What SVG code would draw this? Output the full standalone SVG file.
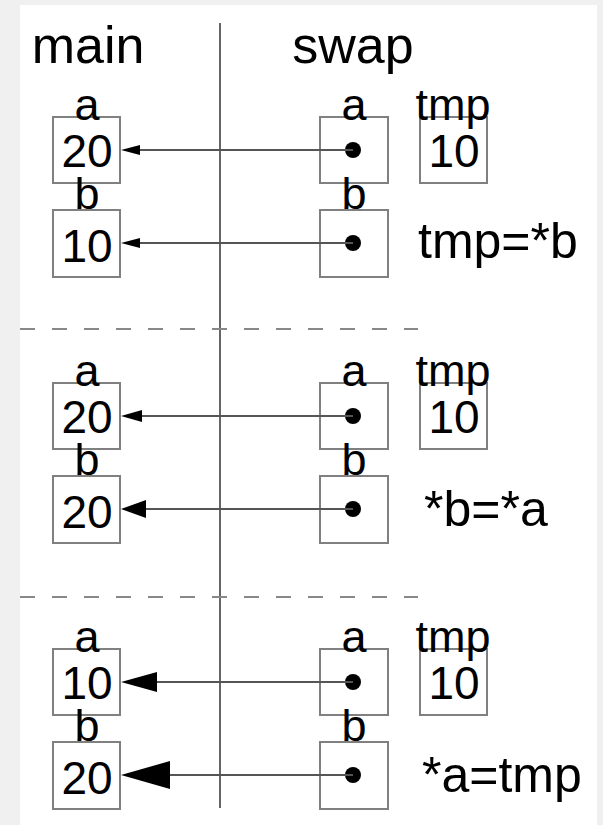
<svg xmlns="http://www.w3.org/2000/svg" width="603" height="825" viewBox="0 0 603 825">
  <style>
    .t { font-family: "Liberation Sans", Arial, sans-serif; fill: #000; text-anchor: middle; }
    .title { font-size: 52px; }
    .lbl { font-size: 45px; }
    .val { font-size: 46px; }
    .stmt { font-size: 50px; text-anchor: start; }
    .box { fill: none; stroke: #808080; stroke-width: 2; }
    .ptr { stroke: #555; stroke-width: 2; fill: none; }
    .dot { fill: #000; }
    .head { fill: #000; }
    .dash { stroke: #888; stroke-width: 2; stroke-dasharray: 15 17; fill: none; }
    .div { stroke: #666; stroke-width: 2; }
  </style>
  <rect x="0" y="0" width="603" height="825" fill="#ffffff"/>
  <rect x="0" y="0" width="20" height="825" fill="#f0f0f0"/>
  <rect x="0" y="0" width="603" height="5" fill="#f0f0f0"/>
  <rect x="597" y="0" width="6" height="825" fill="#f0f0f0"/>

  <g id="titles">
    <text class="t title" x="88" y="63">main</text>
    <text class="t title" x="353" y="63">swap</text>
  </g>

  <g id="dividers">
    <line class="div" x1="220" y1="23" x2="220" y2="808"/>
    <line class="dash" x1="20" y1="329" x2="418" y2="329"/>
    <line class="dash" x1="20" y1="597" x2="418" y2="597"/>
  </g>

  <!-- Section 1 -->
  <g id="s1-main-a">
    <rect class="box" x="53" y="117" width="67" height="66"/>
    <text class="t lbl" x="87" y="120">a</text>
    <text class="t val" x="87" y="167">20</text>
  </g>
  <g id="s1-main-b">
    <rect class="box" x="53" y="210" width="67" height="67"/>
    <text class="t lbl" x="87" y="209">b</text>
    <text class="t val" x="87" y="262">10</text>
  </g>
  <g id="s1-swap-a">
    <rect class="box" x="320" y="117" width="68" height="66"/>
    <text class="t lbl" x="354" y="120">a</text>
    <circle class="dot" cx="353" cy="150" r="8"/>
  </g>
  <g id="s1-swap-b">
    <rect class="box" x="320" y="210" width="68" height="67"/>
    <text class="t lbl" x="354" y="209">b</text>
    <circle class="dot" cx="353" cy="243" r="8"/>
  </g>
  <g id="s1-tmp">
    <rect class="box" x="420" y="117" width="67" height="66"/>
    <text class="t lbl" x="453" y="120">tmp</text>
    <text class="t val" x="454" y="167">10</text>
  </g>
  <g id="s1-stmt">
    <text class="t stmt" x="418" y="258">tmp=*b</text>
  </g>

  <!-- Section 2 -->
  <g id="s2-main-a">
    <rect class="box" x="53" y="383" width="67" height="66"/>
    <text class="t lbl" x="87" y="386">a</text>
    <text class="t val" x="87" y="433">20</text>
  </g>
  <g id="s2-main-b">
    <rect class="box" x="53" y="476" width="67" height="67"/>
    <text class="t lbl" x="87" y="475">b</text>
    <text class="t val" x="87" y="528">20</text>
  </g>
  <g id="s2-swap-a">
    <rect class="box" x="320" y="383" width="68" height="66"/>
    <text class="t lbl" x="354" y="386">a</text>
    <circle class="dot" cx="353" cy="416" r="8"/>
  </g>
  <g id="s2-swap-b">
    <rect class="box" x="320" y="476" width="68" height="67"/>
    <text class="t lbl" x="354" y="475">b</text>
    <circle class="dot" cx="353" cy="509" r="8"/>
  </g>
  <g id="s2-tmp">
    <rect class="box" x="420" y="383" width="67" height="66"/>
    <text class="t lbl" x="453" y="386">tmp</text>
    <text class="t val" x="454" y="433">10</text>
  </g>
  <g id="s2-stmt">
    <text class="t stmt" x="424" y="526">*b=*a</text>
  </g>

  <!-- Section 3 -->
  <g id="s3-main-a">
    <rect class="box" x="53" y="649" width="67" height="66"/>
    <text class="t lbl" x="87" y="652">a</text>
    <text class="t val" x="87" y="699">10</text>
  </g>
  <g id="s3-main-b">
    <rect class="box" x="53" y="742" width="67" height="67"/>
    <text class="t lbl" x="87" y="741">b</text>
    <text class="t val" x="87" y="794">20</text>
  </g>
  <g id="s3-swap-a">
    <rect class="box" x="320" y="649" width="68" height="66"/>
    <text class="t lbl" x="354" y="652">a</text>
    <circle class="dot" cx="353" cy="682" r="8"/>
  </g>
  <g id="s3-swap-b">
    <rect class="box" x="320" y="742" width="68" height="67"/>
    <text class="t lbl" x="354" y="741">b</text>
    <circle class="dot" cx="353" cy="775" r="8"/>
  </g>
  <g id="s3-tmp">
    <rect class="box" x="420" y="649" width="67" height="66"/>
    <text class="t lbl" x="453" y="652">tmp</text>
    <text class="t val" x="454" y="699">10</text>
  </g>
  <g id="s3-stmt">
    <text class="t stmt" x="422" y="792">*a=tmp</text>
  </g>

  <g id="connectors">
    <line class="ptr" x1="138" y1="150" x2="353" y2="150"/>
    <polygon class="head" points="121,150 140,145 140,155"/>
    <line class="ptr" x1="138" y1="243" x2="353" y2="243"/>
    <polygon class="head" points="121,243 140,238 140,248"/>

    <line class="ptr" x1="140" y1="416" x2="353" y2="416"/>
    <polygon class="head" points="121,416 142,410 142,422"/>
    <line class="ptr" x1="144" y1="509" x2="353" y2="509"/>
    <polygon class="head" points="121,509 146,500 146,518"/>

    <line class="ptr" x1="155" y1="682" x2="353" y2="682"/>
    <polygon class="head" points="121,682 157,672 157,692"/>
    <line class="ptr" x1="168" y1="775" x2="353" y2="775"/>
    <polygon class="head" points="121,775 170,761 170,789"/>
  </g>
</svg>
